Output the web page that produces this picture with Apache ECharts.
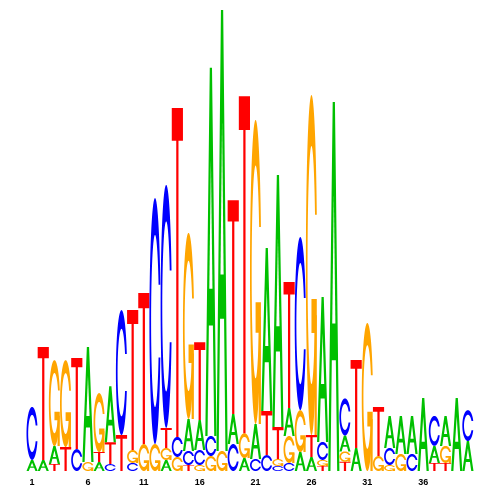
<!DOCTYPE html>
<html><head><meta charset="utf-8">
<script src="https://cdn.jsdelivr.net/npm/echarts@6/dist/echarts.min.js"></script>
<style>html,body{margin:0;padding:0;background:#fff}#c{width:500px;height:500px}</style>
</head><body><div id="c"></div>
<script>
// Sequence positions (x categories)
const positions = ['1','2','3','4','5','6','7','8','9','10','11','12','13','14','15','16','17','18','19','20',
                   '21','22','23','24','25','26','27','28','29','30','31','32','33','34','35','36','37','38','39','40'];
// Letter heights in bits, one value per position
const A = [0.048,0.048,0.078,0,0,0.499,0.039,0.243,0,0,0,0,0.048,0,0.139,0.130,1.597,1.913,0.130,0.056,
           0.152,0.707,1.093,0.121,0.082,0.061,0.629,1.601,0.069,0.100,0,0,0.139,0.165,0.165,0.317,0.074,0.130,0.317,0.130];
const C = [0.230,0,0,0,0.095,0,0,0.030,0.542,0.035,0,1.067,1.054,0.087,0.061,0.065,0.087,0,0.117,0,
           0.052,0.069,0.022,0.035,0.751,0,0.078,0,0.161,0,0,0,0.074,0,0.074,0,0.130,0,0,0.134];
const G = [0,0,0.373,0.377,0,0.039,0.256,0,0,0.056,0.117,0.117,0.052,0.061,0.807,0.026,0.065,0.087,0,0.108,
           1.319,0,0.030,0.117,0.182,1.475,0.026,0,0.045,0,0.642,0.065,0.026,0.074,0,0,0,0.074,0,0];
const T = [0,0.490,0.030,0.104,0.395,0,0.043,0.095,0.156,0.607,0.655,0,0.087,1.427,0.026,0.338,0,0,0.928,1.462,
           0,0.191,0.139,0.547,0,0.095,0.022,0,0.040,0.382,0,0.213,0,0,0,0,0.035,0.035,0,0];
const letters = ['A','C','G','T'];
const colors = {A:'#00C000', C:'#0000FF', G:'#FFA500', T:'#FF0000'};

// ---- letter outlines in a unit box (y up), seqLogo style ----
function linspace(a,b,n){const r=[];for(let i=0;i<n;i++)r.push(a+(b-a)*i/(n-1));return r;}
function ringPts(){
  const a1=linspace(0.3+Math.PI/2,Math.PI,100), a2=linspace(Math.PI,1.5*Math.PI,100);
  const xl1=a1.map(a=>0.5+0.5*Math.sin(a)), yl1=a1.map(a=>0.5+0.5*Math.cos(a));
  const xl2=a2.map(a=>0.5+0.5*Math.sin(a)), yl2=a2.map(a=>0.5+0.5*Math.cos(a));
  const xl=xl1.concat(xl2), yl=yl1.concat(yl2);
  let x=xl.concat(xl.slice().reverse()), y=yl.concat(yl.slice().reverse().map(v=>1-v));
  const maxY=Math.max(...yl1);
  let xi1=a1.map(a=>0.5+0.35*Math.sin(a)), yi1=a1.map(a=>0.5+0.35*Math.cos(a));
  const keep=yi1.map(v=>v<=maxY);
  xi1=xi1.filter((v,k)=>keep[k]); yi1=yi1.filter((v,k)=>keep[k]); yi1[0]=maxY;
  const xi2=a2.map(a=>0.5+0.35*Math.sin(a)), yi2=a2.map(a=>0.5+0.35*Math.cos(a));
  const xi=xi1.concat(xi2), yi=yi1.concat(yi2);
  const x1=xi.concat(xi.slice().reverse()), y1=yi.concat(yi.slice().reverse().map(v=>1-v));
  x=x.concat(x1.slice().reverse()); y=y.concat(y1.slice().reverse());
  return {pts:x.map((v,k)=>[v,y[k]]), r1:Math.max(...xl1)};
}
const ring=ringPts();
const r1=ring.r1, h1=0.4;
const shapes={
  A:[{p:[[0,0],[.4,1],[.6,1],[1,0],[.8,0],[.68,.3],[.32,.3],[.2,0]],f:'A'},
     {p:[[.36,.4],[.5,.75],[.64,.4]],f:'#ffffff'}],
  C:[{p:ring.pts,f:'C'}],
  G:[{p:ring.pts,f:'G'},
     {p:[[r1,h1],[.5,h1],[.5,h1-.1],[r1-.2,h1-.1],[r1-.2,0],[r1,0]],f:'G'}],
  T:[{p:[[0,1],[1,1],[1,.9],[.6,.9],[.6,0],[.4,0],[.4,.9],[0,.9]],f:'T'}]
};

const data=positions.map((p,i)=>[i,A[i],C[i],G[i],T[i]]);

function renderItem(params, api){
  const i=api.value(0);
  const vals=letters.map((L,k)=>({L,h:api.value(k+1)})).filter(o=>o.h>0);
  vals.sort((a,b)=>a.h-b.h);
  const w=api.size([1,0])[0];
  const children=[];
  let base=0;
  for(const o of vals){
    const pb=api.coord([i,base]), pt=api.coord([i,base+o.h]);
    const x0=pb[0]-w/2, yb=pb[1], ht=pb[1]-pt[1];
    for(const s of shapes[o.L]){
      children.push({type:'polygon',
        shape:{points:s.p.map(q=>[x0+q[0]*w, yb-q[1]*ht])},
        style:{fill: s.f.length===1?colors[s.f]:s.f, stroke:null}});
    }
    base+=o.h;
  }
  return {type:'group',children};
}

const chart=echarts.init(document.getElementById('c'),null,{renderer:'canvas'});
chart.setOption({
  animation:false,
  backgroundColor:'#ffffff',
  grid:{left:26.5,right:26.5,top:10,bottom:29},
  xAxis:{type:'category',data:positions,boundaryGap:true,
    axisLine:{show:false},axisTick:{show:false},splitLine:{show:false},
    axisLabel:{interval:(idx)=>idx%5===0,fontSize:9,fontWeight:'bold',
      fontFamily:'Liberation Sans, Arial, sans-serif',color:'#000',margin:7}},
  yAxis:{type:'value',min:0,max:2,show:false},
  series:[{type:'custom',renderItem,data,encode:{x:0,y:[1,2,3,4]},clip:false}]
});
</script></body></html>
